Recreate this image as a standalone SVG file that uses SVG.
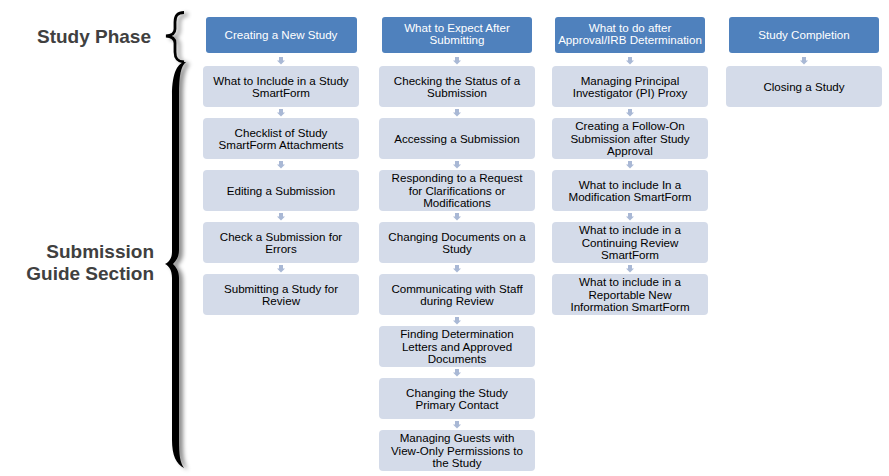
<svg xmlns="http://www.w3.org/2000/svg" width="889" height="476" viewBox="0 0 889 476">
<defs>
<style>
.hd{fill:#4f81bd}
.bx{fill:#d4dbe9}
.ht{font-family:"Liberation Sans",Arial,sans-serif;font-size:11.6px;fill:#ffffff;text-anchor:middle}
.bt{font-family:"Liberation Sans",Arial,sans-serif;font-size:11.6px;fill:#000000;text-anchor:middle}
.lb{font-family:"Liberation Sans",Arial,sans-serif;font-size:19px;font-weight:bold;fill:#404040;text-anchor:end}
.ar{fill:#a9b8d5}
</style>
<path id="arr" class="ar" d="M-2,0 h4 v3.5 h2 l-4,4 l-4,-4 h2 z"/>
<filter id="sh" x="-50%" y="-10%" width="250%" height="120%">
<feGaussianBlur in="SourceAlpha" stdDeviation="2"/>
<feOffset dx="4" dy="2" result="b"/>
<feFlood flood-color="#000" flood-opacity="0.45"/>
<feComposite in2="b" operator="in" result="s"/>
<feMerge><feMergeNode in="s"/><feMergeNode in="SourceGraphic"/></feMerge>
</filter>
</defs>
<rect width="889" height="476" fill="#ffffff"/>

<g id="labels">
<text class="lb" x="151" y="43">Study Phase</text>
<text class="lb" x="154" y="258">Submission</text>
<text class="lb" x="154" y="280">Guide Section</text>
</g>

<g id="braces" filter="url(#sh)">
<path d="M184,12.5 C177,12.5 175,16 175,22 L175,29 C175,33 172,35.5 166,36 C172,36.5 175,39 175,43 L175,52 C175,58 177,61.5 184,62" fill="none" stroke="#000" stroke-width="2.8"/>
<path d="M186,62 C178,62 172,72 172,95 L172,252 C172,258 169,262 165,264 C169,266 172,270 172,278 L172,440 C172,455 176,464 184,468 C180,462 179,455 179,440 L179,278 C179,271 176,267 173,264 C176,261 179,257 179,250 L179,95 C179,75 181,66 186,62 Z" fill="#000"/>
</g>

<g id="connectors">
<use href="#arr" x="281" y="57"/>
<use href="#arr" x="281" y="109"/>
<use href="#arr" x="281" y="161"/>
<use href="#arr" x="281" y="213"/>
<use href="#arr" x="281" y="265"/>
<use href="#arr" x="457" y="57"/>
<use href="#arr" x="457" y="109"/>
<use href="#arr" x="457" y="161"/>
<use href="#arr" x="457" y="213"/>
<use href="#arr" x="457" y="265"/>
<use href="#arr" x="457" y="317"/>
<use href="#arr" x="457" y="369"/>
<use href="#arr" x="457" y="421"/>
<use href="#arr" x="630" y="57"/>
<use href="#arr" x="630" y="109"/>
<use href="#arr" x="630" y="161"/>
<use href="#arr" x="630" y="213"/>
<use href="#arr" x="630" y="265"/>
<use href="#arr" x="804" y="57"/>
</g>

<g id="h1"><rect class="hd" x="206" y="17" width="151" height="36" rx="3"/><text class="ht" x="281" y="39">Creating a New Study</text></g>
<g id="h2"><rect class="hd" x="382" y="17" width="150" height="36" rx="3"/><text class="ht" x="457" y="31.8">What to Expect After</text><text class="ht" x="457" y="44.2">Submitting</text></g>
<g id="h3"><rect class="hd" x="555" y="17" width="150" height="36" rx="3"/><text class="ht" x="630" y="31.8">What to do after</text><text class="ht" x="630" y="44.2">Approval/IRB Determination</text></g>
<g id="h4"><rect class="hd" x="729" y="17" width="150" height="36" rx="3"/><text class="ht" x="804" y="39">Study Completion</text></g>

<g id="c1b1"><rect class="bx" x="203" y="66" width="156" height="41" rx="4"/><text class="bt" x="281" y="84.6">What to Include in a Study</text><text class="bt" x="281" y="97">SmartForm</text></g>
<g id="c1b2"><rect class="bx" x="203" y="118" width="156" height="41" rx="4"/><text class="bt" x="281" y="136.6">Checklist of Study</text><text class="bt" x="281" y="149">SmartForm Attachments</text></g>
<g id="c1b3"><rect class="bx" x="203" y="170" width="156" height="41" rx="4"/><text class="bt" x="281" y="194.8">Editing a Submission</text></g>
<g id="c1b4"><rect class="bx" x="203" y="222" width="156" height="41" rx="4"/><text class="bt" x="281" y="240.6">Check a Submission for</text><text class="bt" x="281" y="253">Errors</text></g>
<g id="c1b5"><rect class="bx" x="203" y="274" width="156" height="41" rx="4"/><text class="bt" x="281" y="292.6">Submitting a Study for</text><text class="bt" x="281" y="305">Review</text></g>

<g id="c2b1"><rect class="bx" x="379" y="66" width="156" height="41" rx="4"/><text class="bt" x="457" y="84.6">Checking the Status of a</text><text class="bt" x="457" y="97">Submission</text></g>
<g id="c2b2"><rect class="bx" x="379" y="118" width="156" height="41" rx="4"/><text class="bt" x="457" y="142.8">Accessing a Submission</text></g>
<g id="c2b3"><rect class="bx" x="379" y="170" width="156" height="41" rx="4"/><text class="bt" x="457" y="182.4">Responding to a Request</text><text class="bt" x="457" y="194.8">for Clarifications or</text><text class="bt" x="457" y="207.2">Modifications</text></g>
<g id="c2b4"><rect class="bx" x="379" y="222" width="156" height="41" rx="4"/><text class="bt" x="457" y="240.6">Changing Documents on a</text><text class="bt" x="457" y="253">Study</text></g>
<g id="c2b5"><rect class="bx" x="379" y="274" width="156" height="41" rx="4"/><text class="bt" x="457" y="292.6">Communicating with Staff</text><text class="bt" x="457" y="305">during Review</text></g>
<g id="c2b6"><rect class="bx" x="379" y="326" width="156" height="41" rx="4"/><text class="bt" x="457" y="338.4">Finding Determination</text><text class="bt" x="457" y="350.8">Letters and Approved</text><text class="bt" x="457" y="363.2">Documents</text></g>
<g id="c2b7"><rect class="bx" x="379" y="378" width="156" height="41" rx="4"/><text class="bt" x="457" y="396.6">Changing the Study</text><text class="bt" x="457" y="409">Primary Contact</text></g>
<g id="c2b8"><rect class="bx" x="379" y="430" width="156" height="41" rx="4"/><text class="bt" x="457" y="442.4">Managing Guests with</text><text class="bt" x="457" y="454.8">View-Only Permissions to</text><text class="bt" x="457" y="467.2">the Study</text></g>

<g id="c3b1"><rect class="bx" x="552" y="66" width="156" height="41" rx="4"/><text class="bt" x="630" y="84.6">Managing Principal</text><text class="bt" x="630" y="97">Investigator (PI) Proxy</text></g>
<g id="c3b2"><rect class="bx" x="552" y="118" width="156" height="41" rx="4"/><text class="bt" x="630" y="130.4">Creating a Follow-On</text><text class="bt" x="630" y="142.8">Submission after Study</text><text class="bt" x="630" y="155.2">Approval</text></g>
<g id="c3b3"><rect class="bx" x="552" y="170" width="156" height="41" rx="4"/><text class="bt" x="630" y="188.6">What to include In a</text><text class="bt" x="630" y="201">Modification SmartForm</text></g>
<g id="c3b4"><rect class="bx" x="552" y="222" width="156" height="41" rx="4"/><text class="bt" x="630" y="234.4">What to include in a</text><text class="bt" x="630" y="246.8">Continuing Review</text><text class="bt" x="630" y="259.2">SmartForm</text></g>
<g id="c3b5"><rect class="bx" x="552" y="274" width="156" height="41" rx="4"/><text class="bt" x="630" y="286.4">What to include in a</text><text class="bt" x="630" y="298.8">Reportable New</text><text class="bt" x="630" y="311.2">Information SmartForm</text></g>

<g id="c4b1"><rect class="bx" x="726" y="66" width="156" height="41" rx="4"/><text class="bt" x="804" y="90.8">Closing a Study</text></g>
</svg>
